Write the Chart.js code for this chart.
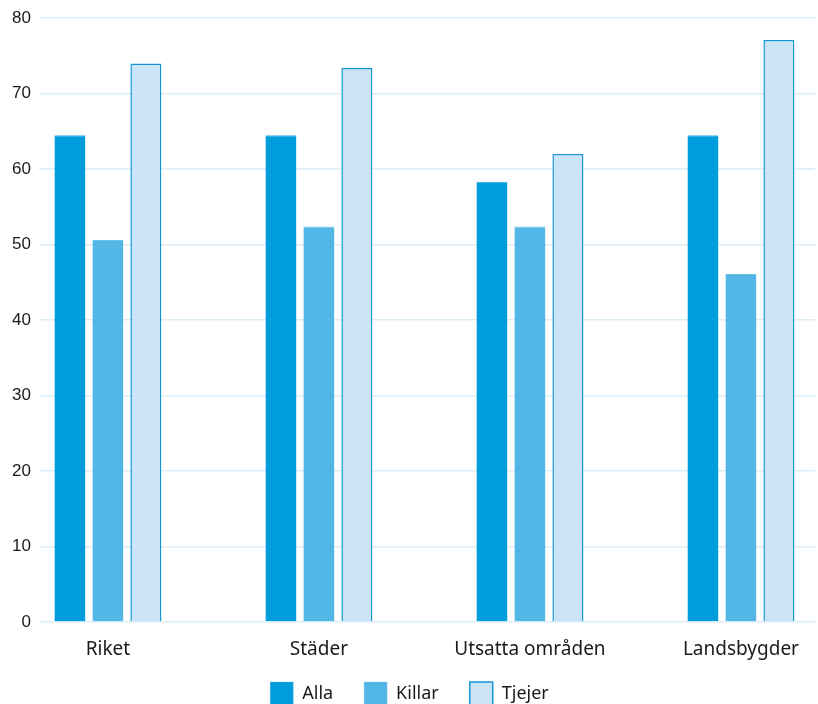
<!DOCTYPE html>
<html>
<head>
<meta charset="utf-8">
<script src="https://cdn.jsdelivr.net/npm/chart.js@4.4.1/dist/chart.umd.min.js"></script>
<style>
  body { margin: 0; background: #fff; }
  #wrap { width: 818px; height: 704px; position: relative; }
</style>
</head>
<body>
<div id="wrap"><canvas id="barChart"></canvas></div>
<script>
const categories = ["Riket", "Städer", "Utsatta områden", "Landsbygder"];
const alla = [64.5, 64.5, 58.3, 64.5];
const killar = [50.6, 52.4, 52.4, 46.1];
const tjejer = [74.0, 73.4, 62.0, 77.1];
const yTicks = [0, 10, 20, 30, 40, 50, 60, 70, 80];

const toPoints = arr => arr.map((v, i) => ({ x: i, y: v }));

// x labels sit close to the legend; give them room so they aren't clipped
const labelRoom = {
    id: "labelRoom",
    afterLayout(chart) {
        chart.scales.x.bottom += 16;
    }
};

const ctx = document.getElementById("barChart").getContext("2d");
new Chart(ctx, {
    type: "bar",
    plugins: [labelRoom],
    data: {
        datasets: [{
            label: "Alla",
            data: toPoints(alla),
            backgroundColor: "#009ddc",
            borderColor: "#3fb0e4",
            borderWidth: { top: 1, left: 0, right: 0, bottom: 0 }
        }, {
            label: "Killar",
            data: toPoints(killar),
            backgroundColor: "#52b6e6",
            borderColor: "#6cc2ea",
            borderWidth: { top: 1, left: 0, right: 0, bottom: 0 }
        }, {
            label: "Tjejer",
            data: toPoints(tjejer),
            backgroundColor: "#cce5f6",
            borderColor: "#1597d6",
            borderWidth: 1.5
        }]
    },
    options: {
        responsive: true,
        maintainAspectRatio: false,
        animation: false,
        categoryPercentage: 0.54,
        barPercentage: 0.816,
        layout: {
            padding: { top: 15, left: 4, right: 3, bottom: -11 }
        },
        plugins: {
            tooltip: { enabled: false },
            legend: {
                position: "bottom",
                labels: {
                    boxWidth: 23,
                    boxHeight: 23,
                    padding: 31,
                    color: "#1a1a1a",
                    font: { family: "'Noto Sans'", size: 18 }
                }
            }
        },
        scales: {
            x: {
                type: "linear",
                offset: false,
                min: -0.327,
                max: 3.351,
                grid: { display: false, offset: false },
                border: { display: false },
                afterBuildTicks: scale => {
                    scale.ticks = categories.map((c, i) => ({ value: i }));
                },
                afterFit: scale => { scale.height = 29; },
                ticks: {
                    padding: 8,
                    maxRotation: 0,
                    autoSkip: false,
                    color: "#1a1a1a",
                    font: { family: "'Noto Sans'", size: 19 },
                    callback: v => categories[v]
                }
            },
            y: {
                min: 0,
                max: 80,
                border: { display: false },
                grid: { color: "#dcedf8", lineWidth: 1.5, drawTicks: false },
                afterBuildTicks: scale => {
                    scale.ticks = yTicks.map(v => ({ value: v }));
                },
                ticks: {
                    padding: 8,
                    color: "#1a1a1a",
                    font: { family: "'Liberation Sans'", size: 17 }
                }
            }
        }
    }
});
</script>
</body>
</html>
